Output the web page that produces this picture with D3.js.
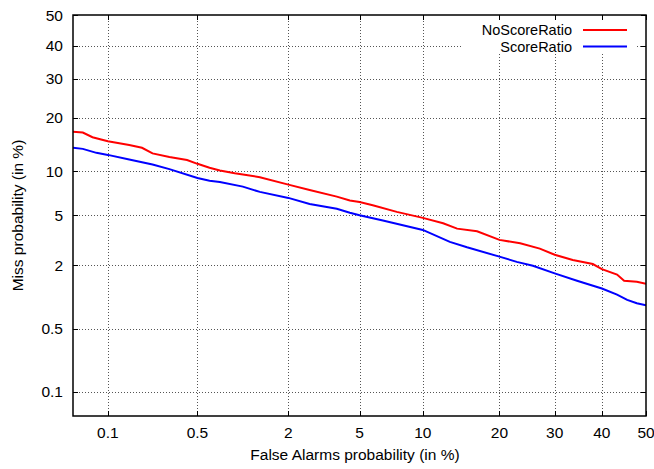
<!DOCTYPE html>
<html>
<head>
<meta charset="utf-8">
<script src="https://cdn.jsdelivr.net/npm/d3@7"></script>
<style>
  html, body { margin: 0; padding: 0; background: #fff; }
  svg { display: block; font-family: "Liberation Sans", Arial, sans-serif; }
</style>
</head>
<body>
<svg id="chart" width="654" height="469"></svg>
<script>
// ---- data (percent) ----
const seriesNames = ["NoScoreRatio", "ScoreRatio"];
const seriesColors = ["#ff0000", "#0000ff"];

const faNoScore = [0.05,0.061,0.074,0.10,0.15,0.19,0.23,0.31,0.42,0.50,0.61,0.72,0.91,1.33,2.0,2.67,3.79,4.45,5.0,5.83,7.62,10,12.2,13.9,16.6,20,23.5,27.1,30,33.7,38,40,43.4,45,47.9,50];
const missNoScore = [16.9,16.75,15.8,15.0,14.3,13.8,12.8,12.2,11.7,11.1,10.5,10.1,9.7,9.16,8.2,7.55,6.81,6.39,6.25,5.93,5.31,4.80,4.37,3.98,3.80,3.25,3.05,2.76,2.46,2.22,2.05,1.85,1.66,1.46,1.43,1.37];

const faScore = [0.05,0.061,0.080,0.10,0.15,0.23,0.31,0.50,0.61,0.72,1.03,1.33,2.0,2.67,3.79,4.45,5.0,6.54,10,13.0,15.2,20,22.9,25.8,30,34.6,40,43.4,45.7,47.9,50];
const missScore = [13.8,13.6,12.9,12.55,11.8,11.0,10.3,9.06,8.7,8.53,7.95,7.33,6.67,6.05,5.60,5.24,5.02,4.58,3.89,3.13,2.83,2.37,2.14,1.98,1.70,1.46,1.24,1.09,0.97,0.90,0.86];

const xTicks = [0.1, 0.5, 2, 5, 10, 20, 30, 40, 50];
const yTicks = [0.1, 0.5, 2, 5, 10, 20, 30, 40, 50];
const axisDomain = [0.05, 50];

// ---- probit (inverse normal CDF, Acklam) ----
function probit(p) {
  const a = [-3.969683028665376e+01, 2.209460984245205e+02, -2.759285104469687e+02, 1.383577518672690e+02, -3.066479806614716e+01, 2.506628277459239e+00];
  const b = [-5.447609879822406e+01, 1.615858368580409e+02, -1.556989798598866e+02, 6.680131188771972e+01, -1.328068155288572e+01];
  const c = [-7.784894002430293e-03, -3.223964580411365e-01, -2.400758277161838e+00, -2.549732539343734e+00, 4.374664141464968e+00, 2.938163982698783e+00];
  const d = [7.784695709041462e-03, 3.224671290700398e-01, 2.445134137142996e+00, 3.754408661907416e+00];
  const pl = 0.02425, ph = 1 - pl;
  let q, r;
  if (p < pl) {
    q = Math.sqrt(-2 * Math.log(p));
    return (((((c[0]*q+c[1])*q+c[2])*q+c[3])*q+c[4])*q+c[5]) / ((((d[0]*q+d[1])*q+d[2])*q+d[3])*q+1);
  } else if (p <= ph) {
    q = p - 0.5; r = q*q;
    return (((((a[0]*r+a[1])*r+a[2])*r+a[3])*r+a[4])*r+a[5])*q / (((((b[0]*r+b[1])*r+b[2])*r+b[3])*r+b[4])*r+1);
  } else {
    q = Math.sqrt(-2 * Math.log(1 - p));
    return -(((((c[0]*q+c[1])*q+c[2])*q+c[3])*q+c[4])*q+c[5]) / ((((d[0]*q+d[1])*q+d[2])*q+d[3])*q+1);
  }
}

const pLeft = 73, pRight = 646, pTop = 15, pBottom = 416;
const svg = d3.select("#chart");

const xLin = d3.scaleLinear().domain(axisDomain.map(v => probit(v/100))).range([pLeft, pRight]);
const yLin = d3.scaleLinear().domain(axisDomain.map(v => probit(v/100))).range([pBottom, pTop]);
const x = v => xLin(probit(v/100));
const y = v => yLin(probit(v/100));

const fontSize = 15.5;
const legendFontSize = 14.5;

// grid
const grid = svg.append("g");
grid.selectAll("line.gx").data(xTicks.filter(t => t < 50)).enter().append("line")
  .attr("x1", d => Math.round(x(d)) + 0.5).attr("x2", d => Math.round(x(d)) + 0.5)
  .attr("y1", pTop).attr("y2", pBottom)
  .attr("stroke", "#555").attr("stroke-width", 1).attr("stroke-dasharray", "1,2");
grid.selectAll("line.gy").data(yTicks.filter(t => t < 50)).enter().append("line")
  .attr("y1", d => Math.round(y(d)) + 0.5).attr("y2", d => Math.round(y(d)) + 0.5)
  .attr("x1", pLeft).attr("x2", pRight)
  .attr("stroke", "#555").attr("stroke-width", 1).attr("stroke-dasharray", "1,2");

// legend background (covers grid)
svg.append("rect").attr("x", 462).attr("y", pTop + 1).attr("width", 174).attr("height", 37).attr("fill", "#fff");

// curves
const lineGen = d3.line().x(d => x(d[0])).y(d => y(d[1]));
const seriesData = [d3.zip(faNoScore, missNoScore), d3.zip(faScore, missScore)];
svg.append("defs").append("clipPath").attr("id", "clip").append("rect")
  .attr("x", pLeft).attr("y", pTop).attr("width", pRight - pLeft).attr("height", pBottom - pTop);
seriesData.forEach((s, i) => {
  svg.append("path").datum(s).attr("d", lineGen)
    .attr("fill", "none").attr("stroke", seriesColors[i]).attr("stroke-width", 2)
    .attr("clip-path", "url(#clip)");
});

// frame
svg.append("rect").attr("x", pLeft).attr("y", pTop).attr("width", pRight - pLeft).attr("height", pBottom - pTop)
  .attr("fill", "none").attr("stroke", "#000").attr("stroke-width", 1.5);

// inward ticks on all sides
const tl = 5;
const tk = svg.append("g").attr("stroke", "#000").attr("stroke-width", 1);
xTicks.forEach(t => {
  const px = Math.round(x(t)) + 0.5;
  tk.append("line").attr("x1", px).attr("x2", px).attr("y1", pBottom).attr("y2", pBottom - tl);
  tk.append("line").attr("x1", px).attr("x2", px).attr("y1", pTop).attr("y2", pTop + tl);
});
yTicks.forEach(t => {
  const py = Math.round(y(t)) + 0.5;
  tk.append("line").attr("x1", pLeft).attr("x2", pLeft + tl).attr("y1", py).attr("y2", py);
  tk.append("line").attr("x1", pRight).attr("x2", pRight - tl).attr("y1", py).attr("y2", py);
});

// tick labels
svg.selectAll("text.xt").data(xTicks).enter().append("text")
  .attr("x", d => x(d)).attr("y", 438)
  .attr("text-anchor", "middle").attr("font-size", fontSize).attr("fill", "#000")
  .text(d => String(d));
svg.selectAll("text.yt").data(yTicks).enter().append("text")
  .attr("x", 63).attr("y", d => y(d)).attr("dy", "0.36em")
  .attr("text-anchor", "end").attr("font-size", fontSize).attr("fill", "#000")
  .text(d => String(d));

// axis titles
svg.append("text").attr("x", 355).attr("y", 460)
  .attr("text-anchor", "middle").attr("font-size", fontSize).text("False Alarms probability (in %)");
svg.append("text").attr("transform", `translate(23,${(pTop + pBottom) / 2}) rotate(-90)`)
  .attr("text-anchor", "middle").attr("font-size", fontSize).text("Miss probability (in %)");

// legend
seriesNames.forEach((n, i) => {
  const ly = 30 + i * 16.5;
  svg.append("text").attr("x", 572).attr("y", ly).attr("dy", "0.36em")
    .attr("text-anchor", "end").attr("font-size", legendFontSize).text(n);
  svg.append("line").attr("x1", 583).attr("x2", 627).attr("y1", ly).attr("y2", ly)
    .attr("stroke", seriesColors[i]).attr("stroke-width", 2);
});
</script>
</body>
</html>
